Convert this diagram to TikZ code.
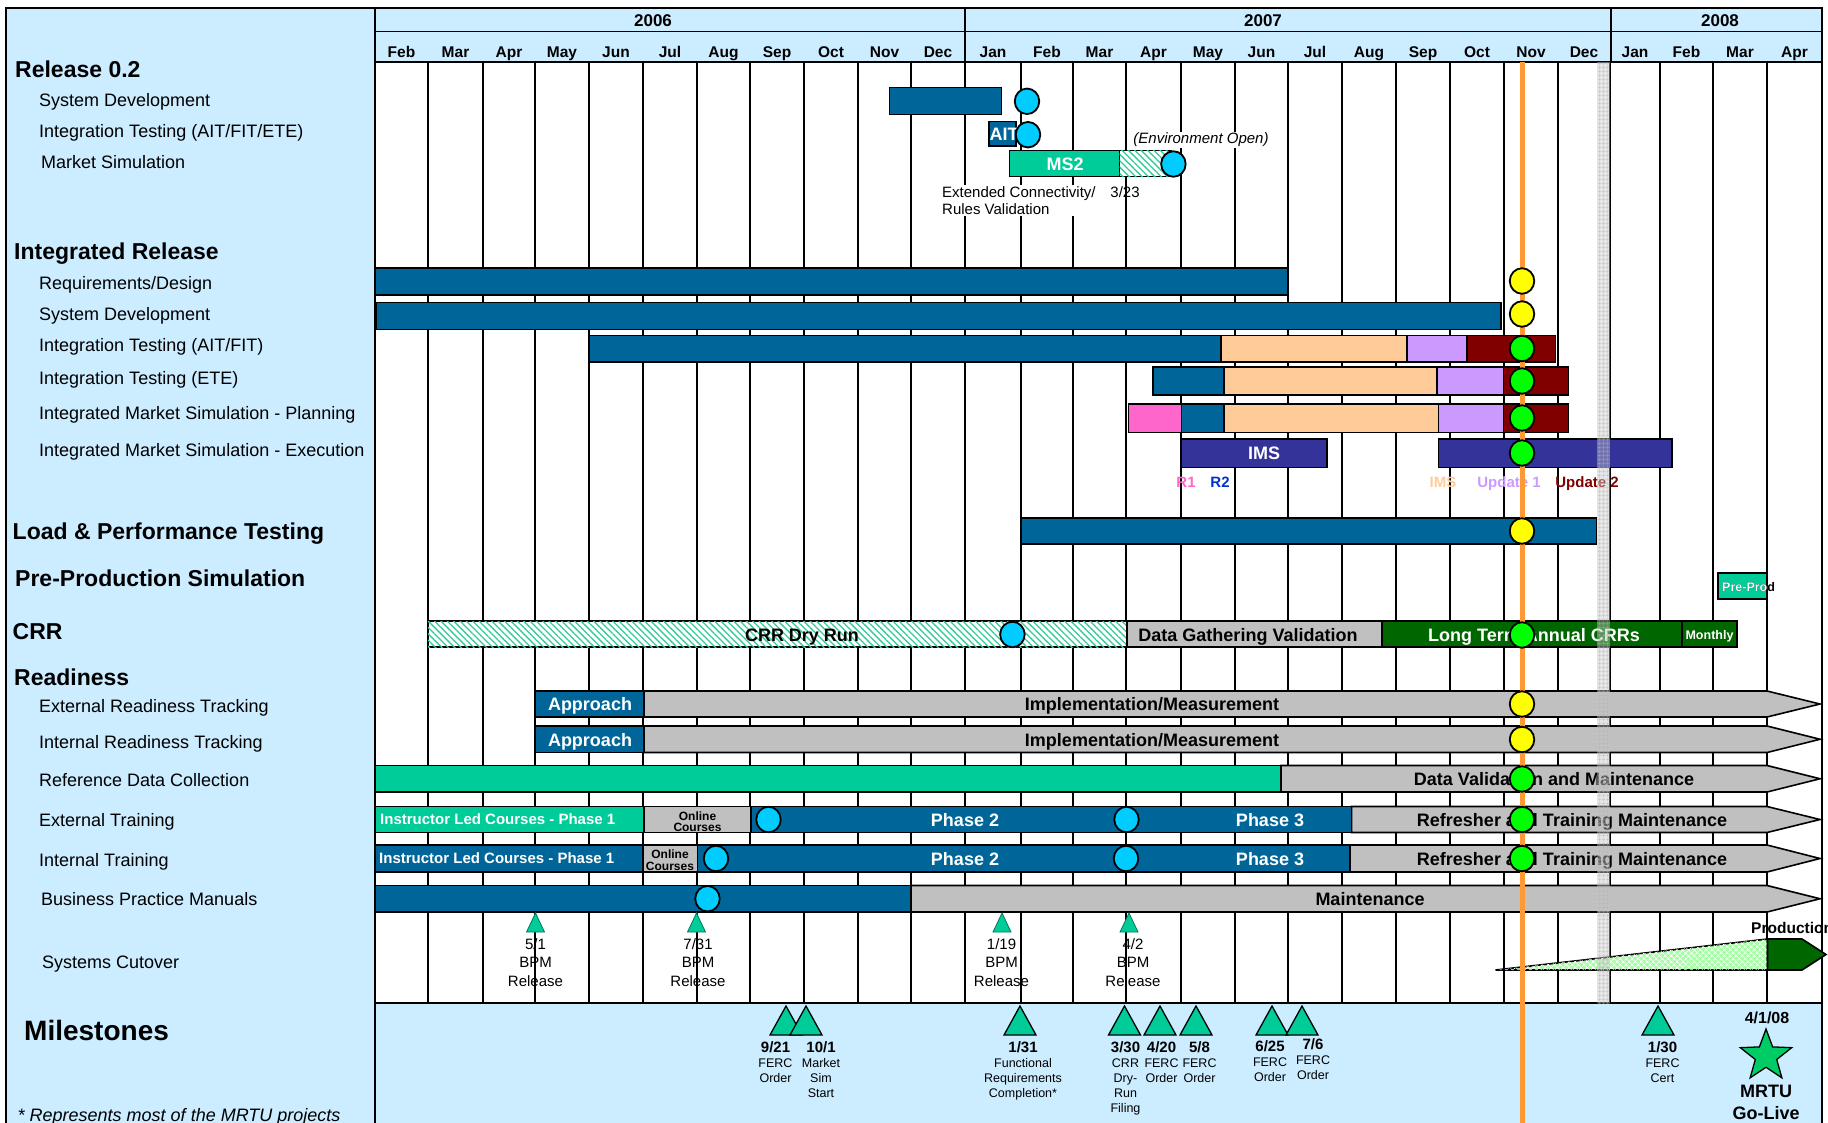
\documentclass[tikz,border=0pt]{standalone}
\usepackage{fontspec}
\setmainfont{Liberation Sans}
\usetikzlibrary{shapes.geometric,patterns,patterns.meta,positioning}

\definecolor{paneblue}{HTML}{CCECFF}
\definecolor{barblue}{HTML}{006699}
\definecolor{dotcyan}{HTML}{00CCFF}
\definecolor{seagreen}{HTML}{00CC99}
\definecolor{peach}{HTML}{FFCC99}
\definecolor{lavender}{HTML}{CC99FF}
\definecolor{darkred}{HTML}{800000}
\definecolor{rosepink}{HTML}{FF66CC}
\definecolor{imsblue}{HTML}{333399}
\definecolor{dotyellow}{HTML}{FFFF00}
\definecolor{dotgreen}{HTML}{00FF00}
\definecolor{bargray}{HTML}{C0C0C0}
\definecolor{forest}{HTML}{006600}
\definecolor{nowline}{HTML}{FF9933}
\definecolor{stargreen}{HTML}{00CC66}
\definecolor{rtwoblue}{HTML}{0033CC}
\definecolor{hatchgreen}{HTML}{33CC99}

\newcommand\fdatefont{\bfseries\fontsize{15}{15}\selectfont}

\tikzset{
    pane/.style={fill=paneblue, draw=black, line width=1.6pt},
    frame/.style={draw=black, line width=1.6pt},
    gridline/.style={line width=1.4pt},
    bar/.style={draw=black, line width=1.6pt},
    garrow/.style={bar, fill=bargray},
    hatch/.style={bar, fill=white, postaction={pattern={Lines[angle=-45,distance=4.5pt,line width=1.3pt]}, pattern color=hatchgreen}},
    dot/.style={ellipse, draw=black, line width=1.8pt, minimum width=24.5pt, minimum height=25.5pt, inner sep=0pt},
    stri/.style={draw=seagreen!60!black, line width=0.8pt, fill=seagreen},
    mtri/.style={draw=black, line width=1.3pt, fill=seagreen},
    fhead/.style={inner sep=0pt, anchor=west, text height=16.5pt, text depth=0pt, font=\bfseries\fontsize{23}{26}\selectfont},
    rlabel/.style={inner sep=0pt, anchor=west, text height=13pt, text depth=0pt, font=\fontsize{18}{21}\selectfont},
    fbar/.style={inner sep=0pt, text height=13pt, text depth=0pt, font=\bfseries\fontsize{18}{21}\selectfont},
    fins/.style={inner sep=0pt, anchor=west, text height=10.7pt, text depth=0pt, text=white, font=\bfseries\fontsize{15}{18}\selectfont},
    flab/.style={inner sep=0pt, text height=10.7pt, text depth=0pt, font=\bfseries\fontsize{15}{18}\selectfont},
    fsmall/.style={inner sep=0pt, text height=9pt, text depth=0pt, font=\bfseries\fontsize{12.5}{14}\selectfont},
    fonline/.style={inner sep=0pt, align=center, font=\bfseries\fontsize{12}{11.5}\selectfont},
    fmonth/.style={inner sep=0pt, text height=11pt, text depth=0pt, font=\bfseries\fontsize{15.5}{18}\selectfont},
    fyear/.style={inner sep=0pt, text height=12pt, text depth=0pt, font=\bfseries\fontsize{17}{20}\selectfont},
    fnote/.style={inner sep=1pt, fill=white, align=left, font=\fontsize{15}{17.5}\selectfont},
    fcut/.style={inner sep=0pt, anchor=north, align=center, font=\fontsize{15}{18.5}\selectfont},
    fmile/.style={inner sep=0pt, anchor=north, align=center, font=\fontsize{12.5}{15}\selectfont}
}

\begin{document}
\begin{tikzpicture}[x=1pt,y=-1pt]
    \useasboundingbox (0,0) rectangle (1828,1122);
    % panels and header
    \draw[pane] (6,8) rectangle (375,1140);
    \fill[white] (375,62) rectangle (1822,1003);
    \draw[pane] (375,8) rectangle (1822,62);
    \draw[pane] (375,1003) rectangle (1822,1140);
    \draw[frame] (375,31.5) -- (1822,31.5);
    \draw[frame, line width=2.2pt] (965,8) -- (965,62) (1611,8) -- (1611,62);
    \node[fyear] (y2006) at (653,20.5) {2006};
    \node[fyear] (y2007) at (1263,20.5) {2007};
    \node[fyear] (y2008) at (1720,20.5) {2008};
    \foreach \m/\x [count=\i] in {Feb/401.5, Mar/455.5, Apr/509, May/562, Jun/616, Jul/670,
        Aug/723.5, Sep/777, Oct/831, Nov/884.5, Dec/938, Jan/993, Feb/1047, Mar/1099.5,
        Apr/1153.5, May/1208, Jun/1261.5, Jul/1315, Aug/1369, Sep/1423, Oct/1477, Nov/1531,
        Dec/1584, Jan/1635, Feb/1686.5, Mar/1740, Apr/1794.5}
        \node[fmonth] (mon\i) at (\x,52) {\m};
    % month grid
    \foreach \x in {428,483,535,589,643,697,750,804,858,911,965,1021,1073,1126,1181,1235,
        1288,1342,1396,1450,1504,1558,1610,1660,1713,1767}
        \draw[gridline] (\x,62) -- (\x,1003);
    \draw[frame] (375,62) -- (375,1003) (1822,62) -- (1822,1003);

    % row labels
    \node[fhead] (rel) at (15,69) {Release 0.2};
    \node[rlabel] (relsd) at (39,100) {System Development};
    \node[rlabel] (relit) at (39,130.5) {Integration Testing (AIT/FIT/ETE)};
    \node[rlabel] (relms) at (41,162) {Market Simulation};
    \node[fhead] (ir) at (14,251.5) {Integrated Release};
    \node[rlabel] (irrd) at (39,283) {Requirements/Design};
    \node[rlabel] (irsd) at (39,314) {System Development};
    \node[rlabel] (irait) at (39,345) {Integration Testing (AIT/FIT)};
    \node[rlabel] (irete) at (39,377.5) {Integration Testing (ETE)};
    \node[rlabel] (irplan) at (39,413) {Integrated Market Simulation - Planning};
    \node[rlabel] (irexec) at (39,450) {Integrated Market Simulation - Execution};
    \node[fhead] (lpt) at (12.5,531.5) {Load \& Performance Testing};
    \node[fhead] (pps) at (15,578) {Pre-Production Simulation};
    \node[fhead] (crr) at (12.5,631.5) {CRR};
    \node[fhead] (rdy) at (14,677) {Readiness};
    \node[rlabel] (rdyext) at (39,706) {External Readiness Tracking};
    \node[rlabel] (rdyint) at (39,742) {Internal Readiness Tracking};
    \node[rlabel] (rdyref) at (39,779.5) {Reference Data Collection};
    \node[rlabel] (rdyet) at (39,820) {External Training};
    \node[rlabel] (rdyit) at (39,860) {Internal Training};
    \node[rlabel] (rdybpm) at (41,899) {Business Practice Manuals};
    \node[rlabel] (cutover) at (42,961.5) {Systems Cutover};
    \node[fhead, text height=20pt, font=\bfseries\fontsize{28}{32}\selectfont] (miles) at (24,1030) {Milestones};
    \node[rlabel, font=\itshape\fontsize{18}{21}\selectfont] (foot) at (17.5,1114.5) {* Represents most of the MRTU projects};

    % Release 0.2
    \draw[bar, fill=barblue] (889.5,87.5) rectangle (1001.5,114.5);
    \draw[bar, fill=barblue] (989,121.5) rectangle (1016,146);
    \node[fbar, anchor=west, text=white] (ait) at (989.5,134) {AIT};
    \draw[bar, fill=seagreen] (1009.5,150.5) rectangle (1119.5,176.5);
    \draw[hatch] (1119.5,150.5) rectangle (1171,176.5);
    \node[fbar, text=white] (ms2) at (1065,163.5) {MS2};
    \node[fnote, font=\itshape\fontsize{15}{17.5}\selectfont] (envopen) at (1201,140) {(Environment Open)};
    \node[fnote, anchor=north west] (extcon) at (941,185) {Extended Connectivity/\\Rules Validation};
    \node[fnote, fill=none, anchor=north] (msdate) at (1125,185) {3/23};

    % Integrated Release
    \draw[bar, fill=barblue] (375,268) rectangle (1288,295);
    \draw[bar, fill=barblue] (376.5,302.5) rectangle (1501,329.5);
    \foreach \a/\b/\c in {589/1221/barblue, 1221/1407/peach, 1407/1467/lavender, 1467/1555.5/darkred}
        \draw[bar, fill=\c] (\a,335.5) rectangle (\b,362);
    \foreach \a/\b/\c in {1153/1224/barblue, 1224/1437/peach, 1437/1503.5/lavender, 1503.5/1568.5/darkred}
        \draw[bar, fill=\c] (\a,367) rectangle (\b,395);
    \foreach \a/\b/\c in {1128.5/1181.5/rosepink, 1181.5/1224/barblue, 1224/1438.5/peach,
        1438.5/1503.5/lavender, 1503.5/1568.5/darkred}
        \draw[bar, fill=\c] (\a,404) rectangle (\b,432.5);
    \draw[bar, fill=imsblue] (1181.5,439) rectangle (1327,467.5);
    \draw[bar, fill=imsblue] (1438.5,439) rectangle (1672,467.5);
    \node[fbar, text=white] (ims) at (1264,453) {IMS};
    \node[flab, text=rosepink] (rone) at (1186,482) {R1};
    \node[flab, text=rtwoblue] (rtwo) at (1220,482) {R2};
    \node[flab, text=peach] (imsleg) at (1443,482) {IMS};
    \node[flab, text=lavender] (upone) at (1509,482) {Update 1};
    \node[flab, text=darkred] (uptwo) at (1587,482) {Update 2};

    % Load & Performance, Pre-Production
    \draw[bar, fill=barblue] (1021,518) rectangle (1596.5,544);
    \draw[bar, fill=seagreen] (1718,573) rectangle (1767,599);
    \node[fsmall, anchor=west] (preprod) at (1722,586.5) {Pre-Prod};
    \begin{scope}
        \clip (1718,573) rectangle (1767,599);
        \node[fsmall, anchor=west, text=white] (preprodin) at (1722,586.5) {Pre-Prod};
    \end{scope}

    % CRR
    \draw[hatch] (428,621) rectangle (1127,647);
    \draw[bar, fill=bargray] (1127,621) rectangle (1382,647);
    \draw[bar, fill=forest] (1382,621) rectangle (1682,647);
    \draw[bar, fill=forest] (1682,621) rectangle (1737,647);
    \node[fbar] (dryrun) at (802,635) {CRR Dry Run};
    \node[fbar] (datagath) at (1248,635) {Data Gathering Validation};
    \node[fbar, text=white] (annual) at (1534,635) {Long Term Annual CRRs};
    \node[fsmall, text=white] (monthly) at (1709.5,635) {Monthly};

    % Readiness
    \foreach \a/\t/\b in {644/691/717, 644/726/752.5, 1281/765.5/792, 1351.5/806.5/832.5,
        1350/845/872, 911/885.5/912}
        \draw[garrow] (\a,\t) -- (1767,\t) -- (1820,{(\t+\b)/2}) -- (1767,\b) -- (\a,\b) -- cycle;
    \draw[bar, fill=barblue] (535,691) rectangle (644,717);
    \draw[bar, fill=barblue] (535,726) rectangle (644,752.5);
    \draw[bar, fill=seagreen] (375,765.5) rectangle (1281,792);
    \draw[bar, fill=seagreen] (375,806.5) rectangle (644,832.5);
    \draw[bar, fill=bargray] (644,806.5) rectangle (751,832.5);
    \draw[bar, fill=barblue] (751,806.5) rectangle (1351.5,832.5);
    \draw[bar, fill=barblue] (375,845) rectangle (643,872);
    \draw[bar, fill=bargray] (643,845) rectangle (697.5,872);
    \draw[bar, fill=barblue] (697.5,845) rectangle (1350,872);
    \draw[bar, fill=barblue] (375,885.5) rectangle (911,912);
    \node[fbar, text=white] (apext) at (590,704) {Approach};
    \node[fbar, text=white] (apint) at (590,739.5) {Approach};
    \node[fbar] (imext) at (1152,704) {Implementation/Measurement};
    \node[fbar] (imint) at (1152,739.5) {Implementation/Measurement};
    \node[fbar] (dataval) at (1554,779) {Data Validation and Maintenance};
    \node[fins] (insext) at (380,819.5) {Instructor Led Courses - Phase 1};
    \node[fonline] (onlext) at (697.5,821.5) {Online\\Courses};
    \node[fbar, text=white] (ptwoext) at (965,819.5) {Phase 2};
    \node[fbar, text=white] (pthrext) at (1270,819.5) {Phase 3};
    \node[fbar] (refext) at (1572,819.5) {Refresher and Training Maintenance};
    \node[fins] (insint) at (379,858.5) {Instructor Led Courses - Phase 1};
    \node[fonline] (onlint) at (670,860) {Online\\Courses};
    \node[fbar, text=white] (ptwoint) at (965,858.5) {Phase 2};
    \node[fbar, text=white] (pthrint) at (1270,858.5) {Phase 3};
    \node[fbar] (refint) at (1572,858.5) {Refresher and Training Maintenance};
    \node[fbar] (maint) at (1370,899) {Maintenance};

    % Systems Cutover
    \foreach \x in {535.5,696.5,1002,1129}
        \draw[stri] (\x-9,932) -- (\x,913) -- (\x+9,932) -- cycle;
    \node[fcut] (bpmone) at (535.5,938) {5/1\\BPM\\Release};
    \node[fcut] (bpmtwo) at (698,938) {7/31\\BPM\\Release};
    \node[fcut] (bpmthr) at (1001.5,938) {1/19\\BPM\\Release};
    \node[fcut] (bpmfour) at (1133,938) {4/2\\BPM\\Release};
    \draw[bar, fill=green!35!white, postaction={pattern={Hatch[angle=45,distance=4pt,line width=0.7pt]}, pattern color=white}]
        (1495.5,970) -- (1767.5,939) -- (1767.5,970) -- cycle;
    \draw[bar, fill=forest] (1767.5,939) -- (1802,939) -- (1826,954.5) -- (1802,970) -- (1767.5,970) -- cycle;
    \node[flab, anchor=west, font=\bfseries\fontsize{15.5}{18}\selectfont] (prod) at (1751,928) {Production};

    % Milestones
    \foreach \x in {786,806,1020,1124.5,1160,1196,1272,1302,1658}
        \draw[mtri] (\x-16,1035) -- (\x,1006) -- (\x+16,1035) -- cycle;
    \node[fmile] (mferc) at (775.5,1041.5) {{\fdatefont 9/21}\\FERC\\Order};
    \node[fmile] (msim) at (821,1041) {{\fdatefont 10/1}\\Market\\Sim\\Start};
    \node[fmile] (mfunc) at (1023,1041.5) {{\fdatefont 1/31}\\Functional\\Requirements\\Completion*};
    \node[fmile] (mcrr) at (1125.5,1041.5) {{\fdatefont 3/30}\\CRR\\Dry-\\Run\\Filing};
    \node[fmile] (mapr) at (1161.5,1041.5) {{\fdatefont 4/20}\\FERC\\Order};
    \node[fmile] (mmay) at (1199.5,1041.5) {{\fdatefont 5/8}\\FERC\\Order};
    \node[fmile] (mjun) at (1270,1040.5) {{\fdatefont 6/25}\\FERC\\Order};
    \node[fmile] (mjul) at (1313,1038) {{\fdatefont 7/6}\\FERC\\Order};
    \node[fmile] (mcert) at (1662.5,1041.5) {{\fdatefont 1/30}\\FERC\\Cert};
    \node[star, star points=5, star point ratio=2.4, minimum size=54pt, inner sep=0pt,
        draw=black, line width=1.3pt, fill=stargreen] (golive) at (1766,1056) {};
    \node[flab, font=\bfseries\fontsize{16}{18}\selectfont] (godate) at (1767,1018) {4/1/08};
    \node[fbar] (mrtu) at (1766,1091) {MRTU};
    \node[fbar] (golivetxt) at (1766,1113) {Go-Live};

    % year-end band and today line
    \fill[gray!45, opacity=0.45] (1597,62) rectangle (1610,1003);
    \path[pattern={Hatch[angle=0,distance=4pt,line width=0.5pt]}, pattern color=gray!60, opacity=0.6]
        (1597,62) rectangle (1610,1003);
    \draw[nowline, line width=5pt] (1522,62) -- (1522,1140);

    % status dots
    \foreach \x/\y/\c [count=\i] in {1027/101.3/dotcyan, 1028/134.7/dotcyan, 1173.4/164/dotcyan,
        1522/281/dotyellow, 1522/314/dotyellow, 1522/348.5/dotgreen, 1522/381/dotgreen,
        1522/418/dotgreen, 1522/453/dotgreen, 1522/531/dotyellow, 1012.4/634.5/dotcyan,
        1522/635/dotgreen, 1522/704/dotyellow, 1522/739.5/dotyellow, 1522/779/dotgreen,
        768.5/819.5/dotcyan, 1126.5/819.5/dotcyan, 1522/819.5/dotgreen, 716/858.5/dotcyan,
        1126/858.5/dotcyan, 1522/858.5/dotgreen, 707.5/898.7/dotcyan}
        \node[dot, fill=\c] (dot\i) at (\x,\y) {};
\end{tikzpicture}
\end{document}
